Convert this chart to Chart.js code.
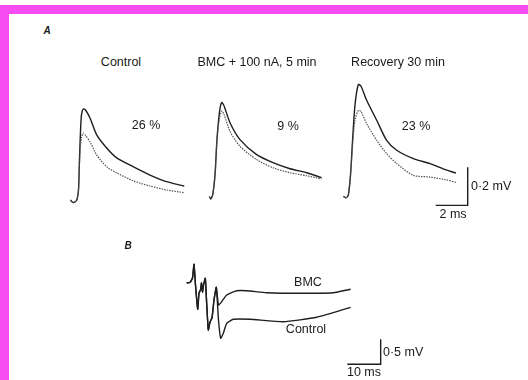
<!DOCTYPE html>
<html>
<head>
<meta charset="utf-8">
<script src="https://cdn.jsdelivr.net/npm/chart.js@4"></script>
<style>
  html, body { margin: 0; padding: 0; background: #fff; }
  #fig { position: relative; width: 528px; height: 380px; overflow: hidden; background: #fff;
         font-family: "Liberation Sans", Arial, sans-serif; color: #1a1a1a; }
  .band-top { position: absolute; left: 0; top: 5px; width: 528px; height: 9px; background: #f84cf3; }
  .band-left { position: absolute; left: 0; top: 5px; width: 9px; height: 375px; background: #f84cf3; }
  .plot { position: absolute; }
  .lbl { position: absolute; font-size: 12.5px; white-space: nowrap; transform: translate(-50%, -50%); }
  .lbl.left { transform: translate(0, -50%); }
  .tag { font-weight: bold; font-style: italic; font-size: 10px; }
</style>
</head>
<body>
<div id="fig">
  <div class="band-top"></div>
  <div class="band-left"></div>

  <div class="plot" style="left:62px; top:69px;"><canvas id="ctl" width="160" height="152"></canvas></div>
  <div class="plot" style="left:200px; top:65px;"><canvas id="bmc" width="160" height="152"></canvas></div>
  <div class="plot" style="left:338px; top:64px;"><canvas id="rec" width="160" height="152"></canvas></div>
  <div class="plot" style="left:180px; top:250px;"><canvas id="pb" width="210" height="125"></canvas></div>

  <div class="lbl tag" style="left:47px; top:30px;">A</div>
  <div class="lbl" style="left:121px; top:62px;">Control</div>
  <div class="lbl" style="left:257px; top:62px;">BMC + 100 nA, 5 min</div>
  <div class="lbl" style="left:398px; top:62px;">Recovery 30 min</div>
  <div class="lbl" style="left:146px; top:125px;">26 %</div>
  <div class="lbl" style="left:288px; top:126px;">9 %</div>
  <div class="lbl" style="left:416px; top:126px;">23 %</div>
  <div class="lbl left" style="left:471px; top:186px;">0·2 mV</div>
  <div class="lbl" style="left:453px; top:214px;">2 ms</div>

  <div class="lbl tag" style="left:128px; top:245px;">B</div>
  <div class="lbl" style="left:308px; top:282px;">BMC</div>
  <div class="lbl" style="left:306px; top:329px;">Control</div>
  <div class="lbl left" style="left:383px; top:352px;">0·5 mV</div>
  <div class="lbl" style="left:364px; top:372px;">10 ms</div>
</div>

<script>
// A: EPSPs, time in ms, amplitude in mV (solid = before, dotted = during conditioning)
const ctlTime   = [0.53, 0.69, 0.91, 1.03, 1.09, 1.16, 1.22, 1.33, 1.47, 1.75, 2.17, 2.79, 3.42, 4.44, 5.5, 6.54, 7.64];
const ctlSolid  = [0.01, -0.003, 0.008, 0.063, 0.22, 0.38, 0.46, 0.49, 0.484, 0.442, 0.353, 0.284, 0.232, 0.186, 0.142, 0.107, 0.084];
const ctlDotted = [0.01, -0.003, 0.008, 0.063, 0.195, 0.3, 0.34, 0.363, 0.35, 0.317, 0.247, 0.186, 0.153, 0.112, 0.084, 0.063, 0.049];

const bmcTime   = [0.58, 0.67, 0.79, 0.94, 1.06, 1.22, 1.36, 1.5, 1.875, 2.5, 3.54, 4.56, 5.625, 6.67, 7.6];
const bmcSolid  = [0.008, -0.005, 0.015, 0.123, 0.307, 0.454, 0.503, 0.486, 0.396, 0.307, 0.228, 0.186, 0.154, 0.133, 0.107];
const bmcDotted = [0.008, -0.005, 0.015, 0.123, 0.307, 0.42, 0.458, 0.44, 0.35, 0.272, 0.202, 0.159, 0.133, 0.117, 0.1];

const recTime   = [0.33, 0.5, 0.64, 0.78, 0.91, 1.06, 1.27, 1.44, 1.79, 2.42, 3.04, 3.67, 4.71, 5.75, 6.79, 7.375];
const recSolid  = [0.004, -0.004, 0.009, 0.114, 0.298, 0.483, 0.592, 0.583, 0.509, 0.404, 0.298, 0.246, 0.202, 0.176, 0.141, 0.126];
const recDotted = [0.004, -0.004, 0.009, 0.114, 0.272, 0.404, 0.456, 0.45, 0.386, 0.298, 0.228, 0.176, 0.114, 0.105, 0.09, 0.077];

// calibration bar for A: 2 ms / 0.2 mV
const barATime = [6.106, 8.106, 8.106];
const barAVolt = [-0.044, -0.044, 0.156];

// B: field potentials, time in ms, potential in mV
const earlyTime = [2.0, 3.0, 3.75, 4.2, 4.65, 5.31, 5.7, 6.15, 6.45, 6.75, 7.05, 7.59, 7.95, 8.49, 9.0, 9.6, 10.2, 10.89];
const earlyVolt = [1.846, 1.85, 1.94, 2.214, 1.8, 1.314, 1.64, 1.7, 1.84, 1.66, 1.8, 1.934, 1.5, 0.9, 1.06, 1.14, 1.5, 1.754];
const bmcBTime  = [11.55, 12.5, 14.0, 17.0, 20.0, 26.0, 36.0, 46.0, 51.2];
const bmcBVolt  = [1.4, 1.466, 1.6, 1.686, 1.686, 1.646, 1.634, 1.646, 1.714];
const ctlBTime  = [11.55, 12.2, 13.0, 14.0, 16.0, 21.0, 31.0, 41.0, 51.2];
const ctlBVolt  = [1.1, 0.734, 0.834, 1.034, 1.114, 1.114, 1.066, 1.154, 1.354];

// calibration bar for B: 10 ms / 0.5 mV
const barBTime = [50.2, 60.2, 60.2];
const barBVolt = [0.214, 0.214, 0.714];

const INK = '#1e1e1e';

function pts(xs, ys) {
  return xs.map((x, i) => ({ x: x, y: ys[i] }));
}

function solid(data, tension) {
  return { data: data, borderColor: INK, borderWidth: 1.4, pointRadius: 0, tension: tension };
}

function dotted(data) {
  return { data: data, borderColor: '#555', borderWidth: 1.2, borderDash: [1.5, 1.1], pointRadius: 0, tension: 0.25 };
}

function makePlot(id, datasets, xmax, ymin, ymax) {
  new Chart(document.getElementById(id), {
    type: 'scatter',
    data: { datasets: datasets.map(d => Object.assign({ showLine: true, clip: false }, d)) },
    options: {
      responsive: false,
      animation: false,
      layout: { padding: 0 },
      plugins: { legend: { display: false }, tooltip: { enabled: false } },
      scales: {
        x: { type: 'linear', display: false, min: 0, max: xmax },
        y: { type: 'linear', display: false, min: ymin, max: ymax }
      }
    }
  });
}

makePlot('ctl', [dotted(pts(ctlTime, ctlDotted)), solid(pts(ctlTime, ctlSolid), 0.25)], 10, -0.1, 0.7);
makePlot('bmc', [dotted(pts(bmcTime, bmcDotted)), solid(pts(bmcTime, bmcSolid), 0.25)], 10, -0.1, 0.7);
makePlot('rec', [
  dotted(pts(recTime, recDotted)),
  solid(pts(recTime, recSolid), 0.25),
  solid(pts(barATime, barAVolt), 0)
], 10, -0.1, 0.7);

const early = pts(earlyTime, earlyVolt);
makePlot('pb', [
  solid(early.concat(pts(bmcBTime, bmcBVolt)), 0.15),
  solid(early.concat(pts(ctlBTime, ctlBVolt)), 0.15),
  solid(pts(barBTime, barBVolt), 0)
], 63, 0, 2.5);
</script>
</body>
</html>
